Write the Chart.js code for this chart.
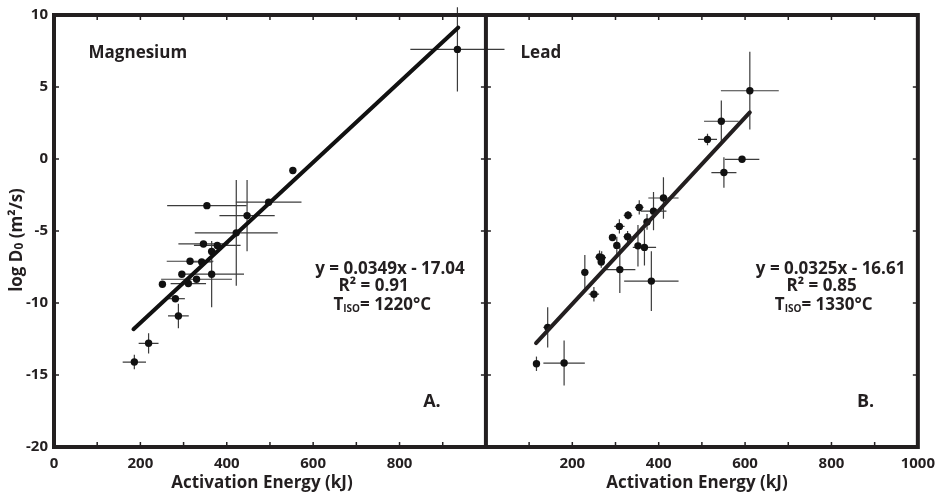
<!DOCTYPE html>
<html>
<head>
<meta charset="utf-8">
<script src="https://cdn.jsdelivr.net/npm/chart.js@4.4.0/dist/chart.umd.min.js"></script>
<style>
  html, body { margin: 0; padding: 0; background: #fff; }
  #wrap { position: relative; width: 943px; height: 495px; }
</style>
</head>
<body>
<div id="wrap"><canvas id="chart" width="943" height="495"></canvas></div>
<script>
// Panel A - Magnesium (energy kJ, log D0, errors)
const mgEnergy    = [186, 219, 288, 281, 251, 296, 365, 311, 330, 315, 342, 346, 378, 365, 354, 422, 447, 497, 553, 934];
const mgLogD      = [-14.1, -12.8, -10.9, -9.7, -8.7, -8.0, -8.0, -8.65, -8.35, -7.1, -7.15, -5.9, -6.0, -6.42, -3.24, -5.13, -3.93, -3.0, -0.8, 7.61];
const mgEnergyErr = [27, 23, 24, 22, 0, 0, 75, 41, 82, 54, 25, 58, 54, 0, 92, 96, 64, 76, 0, 109];
const mgLogDErr   = [0.5, 0.7, 0.85, 0, 0, 0, 2.3, 0, 0, 0, 0, 0, 0, 0, 0, 3.67, 2.47, 0, 0, 2.93];
const mgFitX = [184, 936];
const mgFitY = [-11.82, 9.13];

// Panel B - Lead
const pbEnergy    = [117, 181, 143, 229, 250, 263, 268, 267, 293, 303, 309, 310, 329, 328, 355, 352, 367, 373, 388, 411, 383, 513, 545, 551, 593, 611];
const pbLogD      = [-14.22, -14.17, -11.69, -7.87, -9.39, -6.81, -6.85, -7.15, -5.45, -6.0, -4.68, -7.68, -3.91, -5.4, -3.36, -6.03, -6.14, -4.37, -3.62, -2.71, -8.48, 1.36, 2.62, -0.94, -0.02, 4.74];
const pbEnergyErr = [0, 48, 10, 0, 12, 10, 10, 8, 0, 0, 12, 36, 10, 10, 10, 0, 27, 8, 30, 35, 63, 22, 40, 29, 40, 67];
const pbLogDErr   = [0.5, 1.56, 1.4, 1.2, 0.5, 0.45, 0.45, 0.4, 0, 0.6, 0.5, 1.63, 0.3, 0.4, 0.5, 1.44, 1.26, 0.55, 1.32, 1.44, 2.07, 0.4, 1.44, 1.06, 0, 2.7];
const pbFitX = [116, 611];
const pbFitY = [-12.78, 3.24];

// axes
const xMin = 0, xMax = 1000, xStep = 100, xLabelStep = 200;
const yMin = -20, yMax = 10, yStep = 5;

const mgLines = ["y = 0.0349x - 17.04", "R\u00B2 = 0.91", "1220\u00B0C"];
const pbLines = ["y = 0.0325x - 16.61", "R\u00B2 = 0.85", "1330\u00B0C"];

// the Lead panel sits to the right of the Magnesium panel on one shared x scale
const SHIFT = xMax;
const FONT = '"Open Sans", sans-serif';

function toPoints(xs, ys, shift) {
    return xs.map((x, i) => ({ x: x + shift, y: ys[i] }));
}

const errorSets = [
    { x: mgEnergy, y: mgLogD, ex: mgEnergyErr, ey: mgLogDErr, shift: 0 },
    { x: pbEnergy, y: pbLogD, ex: pbEnergyErr, ey: pbLogDErr, shift: SHIFT }
];

const errorBars = {
    id: "errorBars",
    beforeDatasetsDraw(chart) {
        const ctx = chart.ctx, xs = chart.scales.x, ys = chart.scales.y;
        ctx.save();
        ctx.strokeStyle = "#3c3c3c";
        ctx.lineWidth = 1.2;
        errorSets.forEach(s => {
            s.x.forEach((xv, i) => {
                const px = xs.getPixelForValue(xv + s.shift);
                const py = ys.getPixelForValue(s.y[i]);
                ctx.beginPath();
                if (s.ex[i] > 0) {
                    ctx.moveTo(xs.getPixelForValue(xv - s.ex[i] + s.shift), py);
                    ctx.lineTo(xs.getPixelForValue(xv + s.ex[i] + s.shift), py);
                }
                if (s.ey[i] > 0) {
                    ctx.moveTo(px, ys.getPixelForValue(s.y[i] - s.ey[i]));
                    ctx.lineTo(px, ys.getPixelForValue(s.y[i] + s.ey[i]));
                }
                ctx.stroke();
            });
        });
        ctx.restore();
    }
};

// draw a run of text pieces (sub/superscripts), anchored by align
function drawRich(ctx, parts, x, y, align) {
    let w = 0;
    parts.forEach(p => { ctx.font = "700 " + p.size + "px " + FONT; w += ctx.measureText(p.t).width; });
    let cx = align === "center" ? x - w / 2 : x;
    ctx.textAlign = "left";
    ctx.textBaseline = "middle";
    parts.forEach(p => {
        ctx.font = "700 " + p.size + "px " + FONT;
        ctx.fillText(p.t, cx, y + (p.dy || 0));
        cx += ctx.measureText(p.t).width;
    });
}

const frame = {
    id: "frame",
    afterDraw(chart) {
        const ctx = chart.ctx, xs = chart.scales.x, ys = chart.scales.y;
        const a = chart.chartArea;
        const mid = xs.getPixelForValue(SHIFT);
        ctx.save();
        ctx.strokeStyle = "#231f20";
        ctx.fillStyle = "#231f20";

        // minor ticks
        ctx.lineWidth = 1.5;
        ctx.beginPath();
        for (let v = xMin + xStep; v < 2 * xMax; v += xStep) {
            if (v === SHIFT) continue;
            const px = xs.getPixelForValue(v);
            ctx.moveTo(px, a.bottom); ctx.lineTo(px, a.bottom - 5);
            ctx.moveTo(px, a.top); ctx.lineTo(px, a.top + 5);
        }
        for (let v = yMin + yStep; v < yMax; v += yStep) {
            const py = ys.getPixelForValue(v);
            ctx.moveTo(a.left, py); ctx.lineTo(a.left + 5, py);
            ctx.moveTo(a.right, py); ctx.lineTo(a.right - 5, py);
            ctx.moveTo(mid - 5, py); ctx.lineTo(mid + 5, py);
        }
        ctx.stroke();

        // panel borders
        ctx.lineWidth = 4;
        ctx.strokeRect(a.left, a.top, a.right - a.left, a.bottom - a.top);
        ctx.beginPath();
        ctx.moveTo(mid, a.top); ctx.lineTo(mid, a.bottom);
        ctx.stroke();

        const X = v => xs.getPixelForValue(v), Y = v => ys.getPixelForValue(v);

        // panel names
        ctx.font = "700 17px " + FONT;
        ctx.textAlign = "left";
        ctx.textBaseline = "middle";
        ctx.fillText("Magnesium", X(80), Y(7.38));
        ctx.fillText("Lead", X(80 + SHIFT), Y(7.38));

        // fit statistics
        const blocks = [
            { lines: mgLines, cx: [778, 740, 760], shift: 0 },
            { lines: pbLines, cx: [798, 777, 782], shift: SHIFT }
        ];
        blocks.forEach(b => {
            drawRich(ctx, [{ t: b.lines[0], size: 17 }], X(b.cx[0] + b.shift), Y(-7.62), "center");
            drawRich(ctx, [{ t: b.lines[1], size: 17 }], X(b.cx[1] + b.shift), Y(-8.86), "center");
            drawRich(ctx, [
                { t: "T", size: 17 },
                { t: "ISO", size: 10, dy: 4 },
                { t: "= " + b.lines[2], size: 17 }
            ], X(b.cx[2] + b.shift), Y(-10.17), "center");
        });

        // panel letters
        ctx.font = "700 18px " + FONT;
        ctx.textAlign = "center";
        ctx.fillText("A.", X(875), Y(-16.9));
        ctx.fillText("B.", X(879 + SHIFT), Y(-16.9));

        // axis titles
        ctx.font = "700 17px " + FONT;
        ctx.textBaseline = "middle";
        ctx.fillText("Activation Energy (kJ)", 262, 483);
        ctx.fillText("Activation Energy (kJ)", 697, 483);

        ctx.translate(17, 240);
        ctx.rotate(-Math.PI / 2);
        drawRich(ctx, [
            { t: "log D", size: 17 },
            { t: "0", size: 12, dy: 3 },
            { t: " (m\u00B2/s)", size: 17 }
        ], 0, 0, "center");
        ctx.restore();
    }
};

const ctx = document.getElementById("chart").getContext("2d");
const myChart = new Chart(ctx, {
    data: {
        datasets: [
            {
                type: "line",
                label: "Mg fit",
                data: toPoints(mgFitX, mgFitY, 0),
                borderColor: "#111",
                borderWidth: 4,
                borderCapStyle: "round",
                pointRadius: 0,
                order: 0
            },
            {
                type: "line",
                label: "Pb fit",
                data: toPoints(pbFitX, pbFitY, SHIFT),
                borderColor: "#231f20",
                borderWidth: 4,
                borderCapStyle: "round",
                pointRadius: 0,
                order: 0
            },
            {
                type: "scatter",
                label: "Magnesium",
                data: toPoints(mgEnergy, mgLogD, 0),
                backgroundColor: "#111",
                borderWidth: 0,
                pointRadius: 3.7,
                clip: false,
                order: 1
            },
            {
                type: "scatter",
                label: "Lead",
                data: toPoints(pbEnergy, pbLogD, SHIFT),
                backgroundColor: "#111",
                borderWidth: 0,
                pointRadius: 3.7,
                clip: false,
                order: 1
            }
        ]
    },
    options: {
        responsive: false,
        animation: false,
        devicePixelRatio: 1,
        layout: { padding: { top: 12, right: 20, left: 0, bottom: 0 } },
        plugins: { legend: { display: false }, tooltip: { enabled: false } },
        scales: {
            x: {
                type: "linear",
                min: xMin,
                max: 2 * xMax,
                grid: { display: false, drawTicks: false },
                border: { display: false },
                afterFit: s => { s.height = 48; },
                ticks: {
                    stepSize: xStep,
                    autoSkip: false,
                    maxRotation: 0,
                    padding: 8,
                    color: "#231f20",
                    font: { family: FONT, size: 15, weight: "700" },
                    callback: v => {
                        if (v % xLabelStep !== 0 || v === SHIFT) return "";
                        return v > SHIFT ? String(v - SHIFT) : String(v);
                    }
                }
            },
            y: {
                type: "linear",
                min: yMin,
                max: yMax,
                grid: { display: false, drawTicks: false },
                border: { display: false },
                afterFit: s => { s.width = 54; },
                ticks: {
                    stepSize: yStep,
                    padding: 6,
                    color: "#231f20",
                    font: { family: FONT, size: 15, weight: "700" }
                }
            }
        }
    },
    plugins: [errorBars, frame]
});
</script>
</body>
</html>
